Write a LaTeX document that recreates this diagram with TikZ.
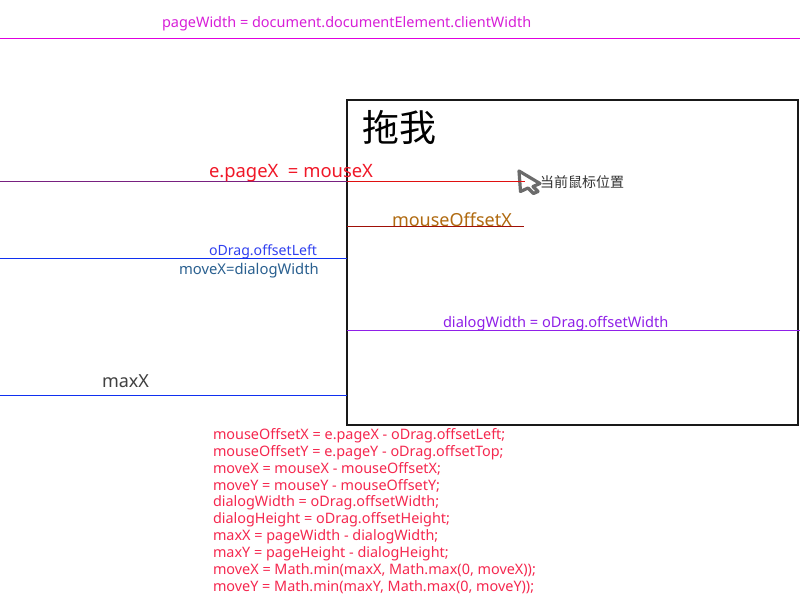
\documentclass[tikz,border=0pt]{standalone}
\usepackage{fontspec}
\setmainfont{Noto Sans}
\newfontfamily\cjk{Noto Sans CJK SC}
\definecolor{magline}{HTML}{E000E0}
\definecolor{magtext}{HTML}{D81FD8}
\definecolor{redline}{HTML}{E01010}
\definecolor{redtext}{HTML}{F01828}
\definecolor{darkred}{HTML}{A01008}
\definecolor{brown}{HTML}{B06A10}
\definecolor{bluel}{HTML}{1030F0}
\definecolor{bluet}{HTML}{3040F0}
\definecolor{steel}{HTML}{2A6090}
\definecolor{purp}{HTML}{9020E8}
\definecolor{codered}{HTML}{F5284F}
\tikzset{
 lbl/.style={inner sep=0pt,outer sep=0pt,anchor=base west},
 fs/.style={font=\fontsize{#1}{#1}\selectfont},
 hline/.style={line width=1pt},
 codeline/.style={lbl,fs=14.4,text=codered}
}
\begin{document}
\begin{tikzpicture}[x=1pt,y=-1pt]
\useasboundingbox (0,0) rectangle (800,600);
\fill[white] (0,0) rectangle (800,600);
% anchors
\coordinate (p0) at (0,38.5); \coordinate (p1) at (800,38.5);
\coordinate (m0) at (0,181.5); \coordinate (m1) at (525,181.5);
\coordinate (o0) at (347,226.5); \coordinate (o1) at (524,226.5);
\coordinate (l0) at (0,258.5); \coordinate (l1) at (347,258.5);
\coordinate (d0) at (347,330.5); \coordinate (d1) at (800,330.5);
\coordinate (x0) at (0,395.5); \coordinate (x1) at (347,395.5);
\draw[hline,magline] (p0) -- (p1);
\node[lbl,fs=14.46,text=magtext] (pw) at (162,27) {pageWidth = document.documentElement.clientWidth};
\draw[line width=1.4pt,black!90] (347,100) rectangle (798,425) ;
\node[lbl,fs=37,text=black] (tuo) at (362,141.5) {\cjk 拖我};
\draw[hline,bluel] (x0) -- (x1);
\draw[hline,bluel] (l0) -- (l1);
\draw[hline,purp] (d0) -- (d1);
\draw[hline,darkred] (o0) -- (o1);
\draw[line width=3.2pt,black!58,line join=round,fill=white] (519,171) -- (540,183.5) -- (533,186.5) -- (538,191.5) -- (533.5,193.5) -- (528,188) -- (520.5,191.5) -- cycle;
\draw[hline,bluel!50!redline] (m0) -- (347,181.5);
\draw[hline,redline] (347,181.5) -- (m1);
\node[lbl,fs=18.4,text=redtext] (ep) at (209,177) {e.pageX\ \ = mouseX};
\node[lbl,fs=18,text=brown] (mo) at (392,226) {mouseOffsetX};
\node[lbl,fs=14.1,text=bluet] (ol) at (209,255) {oDrag.offsetLeft};
\node[lbl,fs=14.8,text=steel] (mv) at (179,274) {moveX=dialogWidth};
\node[lbl,fs=14.6,text=purp] (dw) at (443,327) {dialogWidth = oDrag.offsetWidth};
\node[lbl,fs=18,text=black!75] (mx) at (102,387) {maxX};
\node[lbl,fs=14,text=black!80] (cur) at (540,187) {\cjk 当前鼠标位置};
\node[codeline] (c1) at (213,439.3) {mouseOffsetX = e.pageX - oDrag.offsetLeft;};
\node[codeline] (c2) at (213,456.2) {mouseOffsetY = e.pageY - oDrag.offsetTop;};
\node[codeline] (c3) at (213,473.1) {moveX = mouseX - mouseOffsetX;};
\node[codeline] (c4) at (213,490) {moveY = mouseY - mouseOffsetY;};
\node[codeline] (c5) at (213,506.9) {dialogWidth = oDrag.offsetWidth;};
\node[codeline] (c6) at (213,523.8) {dialogHeight = oDrag.offsetHeight;};
\node[codeline] (c7) at (213,540.7) {maxX = pageWidth - dialogWidth;};
\node[codeline] (c8) at (213,557.6) {maxY = pageHeight - dialogHeight;};
\node[codeline] (c9) at (213,574.5) {moveX = Math.min(maxX, Math.max(0, moveX));};
\node[codeline] (c10) at (213,591.4) {moveY = Math.min(maxY, Math.max(0, moveY));};
\end{tikzpicture}
\end{document}
